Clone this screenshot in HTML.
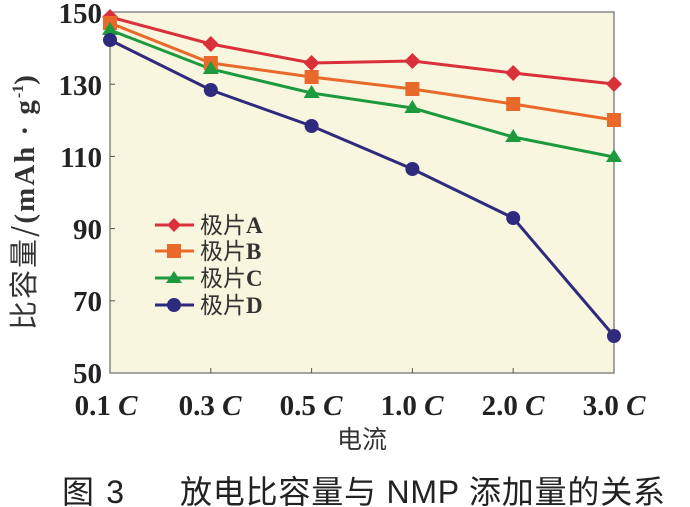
<!DOCTYPE html>
<html><head><meta charset="utf-8"><style>
body{margin:0;background:#fff;}
svg{display:block}
</style></head><body>
<svg width="690" height="507" xmlns="http://www.w3.org/2000/svg" font-family="Liberation Serif, serif">
<rect x="110" y="12" width="504" height="361" fill="#f8f6de" stroke="#777" stroke-width="1.3"/>
<g stroke="#555" stroke-width="1">
<line x1="110" y1="84.2" x2="115" y2="84.2"/><line x1="110" y1="156.4" x2="115" y2="156.4"/>
<line x1="110" y1="228.6" x2="115" y2="228.6"/><line x1="110" y1="300.8" x2="115" y2="300.8"/>
<line x1="210.8" y1="373" x2="210.8" y2="368"/><line x1="311.6" y1="373" x2="311.6" y2="368"/>
<line x1="412.4" y1="373" x2="412.4" y2="368"/><line x1="513.2" y1="373" x2="513.2" y2="368"/>
</g>
<g font-size="29" font-weight="bold" fill="#222" text-anchor="end">
<text x="102" y="23">150</text><text x="102" y="95">130</text><text x="102" y="167">110</text>
<text x="102" y="239">90</text><text x="102" y="311">70</text><text x="102" y="383">50</text>
</g>
<g font-size="29" font-weight="bold" fill="#222" text-anchor="middle">
<text x="106" y="415">0.1 <tspan font-style="italic">C</tspan></text>
<text x="210" y="415">0.3 <tspan font-style="italic">C</tspan></text>
<text x="311" y="415">0.5 <tspan font-style="italic">C</tspan></text>
<text x="412" y="415">1.0 <tspan font-style="italic">C</tspan></text>
<text x="513" y="415">2.0 <tspan font-style="italic">C</tspan></text>
<text x="614" y="415">3.0 <tspan font-style="italic">C</tspan></text>
</g>
<text x="362" y="448" font-size="25" fill="#333" text-anchor="middle" font-family="Noto Sans CJK SC, sans-serif">电流</text>
<text transform="translate(34,330) rotate(-90)" font-size="29" fill="#333"><tspan font-family="Noto Sans CJK SC, sans-serif" letter-spacing="2">比容量/</tspan><tspan font-weight="bold" letter-spacing="2">(mAh · g</tspan><tspan font-weight="bold" font-size="16" dy="-11">-1</tspan><tspan font-weight="bold" dy="11">)</tspan></text>
<polyline fill="none" stroke="#d9303a" stroke-width="3" points="110,17 210.8,44 311.6,63 412.4,61 513.2,73 614,84"/>
<polyline fill="none" stroke="#e8692a" stroke-width="3" points="110,23 210.8,63 311.6,77 412.4,89 513.2,104 614,120"/>
<polyline fill="none" stroke="#1e9a3e" stroke-width="3" points="110,30 210.8,69 311.6,93 412.4,108 513.2,137 614,157"/>
<polyline fill="none" stroke="#2e2a7e" stroke-width="3" points="110,40 210.8,90 311.6,126 412.4,169 513.2,218 614,336"/>
<g fill="#d9303a">
<path d="M110,9l8,8l-8,8l-8,-8z"/><path d="M210.8,36l8,8l-8,8l-8,-8z"/><path d="M311.6,55l8,8l-8,8l-8,-8z"/><path d="M412.4,53l8,8l-8,8l-8,-8z"/><path d="M513.2,65l8,8l-8,8l-8,-8z"/><path d="M614,76l8,8l-8,8l-8,-8z"/>
</g>
<g fill="#e8692a">
<rect x="103" y="16" width="14" height="14"/><rect x="203.8" y="56" width="14" height="14"/><rect x="304.6" y="70" width="14" height="14"/><rect x="405.4" y="82" width="14" height="14"/><rect x="506.2" y="97" width="14" height="14"/><rect x="607" y="113" width="14" height="14"/>
</g>
<g fill="#1e9a3e">
<path d="M110,22l8,13h-16z"/><path d="M210.8,61l8,13h-16z"/><path d="M311.6,85l8,13h-16z"/><path d="M412.4,100l8,13h-16z"/><path d="M513.2,129l8,13h-16z"/><path d="M614,149l8,13h-16z"/>
</g>
<g fill="#2e2a7e">
<circle cx="110" cy="40" r="7"/><circle cx="210.8" cy="90" r="7"/><circle cx="311.6" cy="126" r="7"/><circle cx="412.4" cy="169" r="7"/><circle cx="513.2" cy="218" r="7"/><circle cx="614" cy="336" r="7"/>
</g>
<g stroke-width="3">
<line x1="155" y1="225" x2="194" y2="225" stroke="#d9303a"/>
<line x1="155" y1="251" x2="194" y2="251" stroke="#e8692a"/>
<line x1="155" y1="278" x2="194" y2="278" stroke="#1e9a3e"/>
<line x1="155" y1="305" x2="194" y2="305" stroke="#2e2a7e"/>
</g>
<path d="M174,218l7,7l-7,7l-7,-7z" fill="#d9303a"/>
<rect x="167" y="244" width="14" height="14" fill="#e8692a"/>
<path d="M174,271l8,12h-16z" fill="#1e9a3e"/>
<circle cx="174" cy="305" r="7" fill="#2e2a7e"/>
<g font-size="23" fill="#333">
<text x="200" y="233"><tspan font-family="Noto Sans CJK SC, sans-serif">极片</tspan><tspan font-weight="bold">A</tspan></text>
<text x="200" y="259"><tspan font-family="Noto Sans CJK SC, sans-serif">极片</tspan><tspan font-weight="bold">B</tspan></text>
<text x="200" y="286"><tspan font-family="Noto Sans CJK SC, sans-serif">极片</tspan><tspan font-weight="bold">C</tspan></text>
<text x="200" y="313"><tspan font-family="Noto Sans CJK SC, sans-serif">极片</tspan><tspan font-weight="bold">D</tspan></text>
</g>
<g font-size="32" fill="#222" font-family="Liberation Sans, Noto Sans CJK SC, sans-serif">
<text x="62" y="503" textLength="62" lengthAdjust="spacing">图 3</text>
<text x="180" y="503" textLength="485" lengthAdjust="spacing">放电比容量与 NMP 添加量的关系</text>
</g>
</svg>
</body></html>
